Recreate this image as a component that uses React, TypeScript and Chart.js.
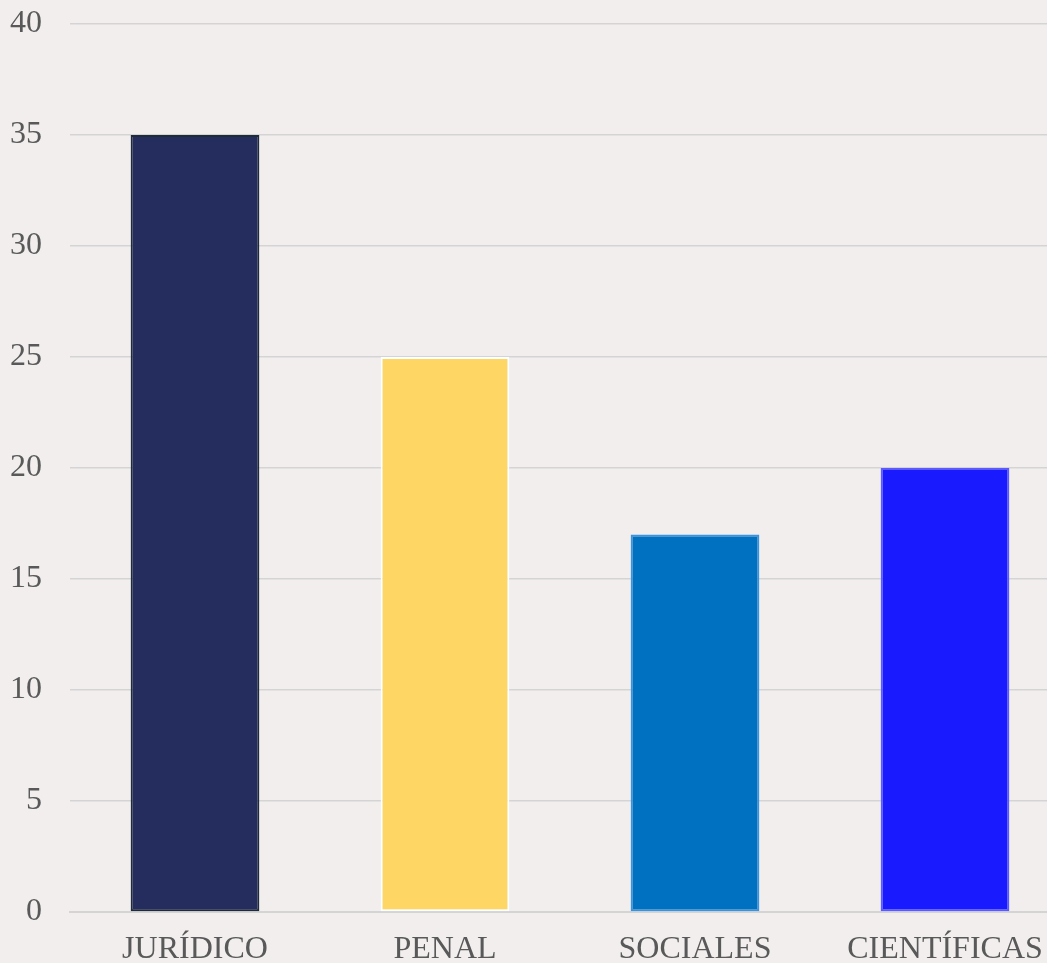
import React, { useEffect, useRef } from "react";
import { Chart, registerables } from "chart.js";

Chart.register(...registerables);

const categories = ["JURÍDICO", "PENAL", "SOCIALES", "CIENTÍFICAS"];
const values = [35, 25, 17, 20];
const barColors = ["#252d5f", "#fdd663", "#0070c0", "#1a1aff"];
const borderColors = ["#1f2b3a", "#ffffff", "#3a93dc", "#5a5aff"];
const yTicks = [0, 5, 10, 15, 20, 25, 30, 35, 40];

export default function App() {
  const ref = useRef<HTMLCanvasElement | null>(null);

  useEffect(() => {
    document.body.style.margin = "0";
    document.body.style.overflow = "hidden";
    const ctx = ref.current!;
    const chart = new Chart(ctx, {
      type: "bar",
      data: {
        labels: categories,
        datasets: [
          {
            data: values,
            backgroundColor: barColors,
            borderColor: borderColors,
            borderWidth: 2,
            borderSkipped: false,
            categoryPercentage: 1,
            barPercentage: 0.515,
          },
        ],
      },
      options: {
        animation: false,
        responsive: false,
        maintainAspectRatio: false,
        layout: { padding: { left: 0, top: 24, right: 0, bottom: 0 } },
        plugins: { legend: { display: false }, tooltip: { enabled: false } },
        scales: {
          x: {
            grid: { display: false },
            border: { color: "#d4d4d4", width: 2 },
            afterFit: (scale: any) => {
              scale.height = 51;
            },
            ticks: {
              color: "#595959",
              font: { family: "'Liberation Serif', 'Times New Roman', serif", size: 32 },
              padding: 10,
              maxRotation: 0,
              autoSkip: false,
            },
          },
          y: {
            min: 0,
            max: 40,
            afterBuildTicks: (scale: any) => {
              scale.ticks = yTicks.map((v) => ({ value: v }));
            },
            afterFit: (scale: any) => {
              scale.width = 70;
            },
            grid: { color: "#d4d4d4", lineWidth: 1.5, drawTicks: true, tickLength: 26, tickColor: "rgba(0,0,0,0)" },
            border: { display: false },
            ticks: {
              color: "#595959",
              font: { family: "'Liberation Serif', 'Times New Roman', serif", size: 32 },
              padding: 2,
            },
          },
        },
      },
    });
    return () => chart.destroy();
  }, []);

  return (
    <div
      style={{
        position: "absolute",
        left: 0,
        top: 0,
        width: 1047,
        height: 963,
        overflow: "hidden",
        background: "#f2eeee",
      }}
    >
      <canvas ref={ref} width={1070} height={963} style={{ display: "block", width: 1070, height: 963 }} />
    </div>
  );
}
